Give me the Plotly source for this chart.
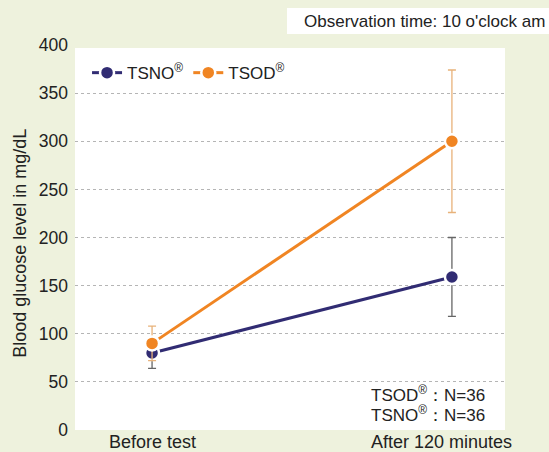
import plotly.graph_objects as go

categories = ["Before test", "After 120 minutes"]
tsno_mean = [80, 159]
tsno_err = [16, 41]
tsod_mean = [90, 300]
tsod_err = [18, 74]
y_ticks = [0, 50, 100, 150, 200, 250, 300, 350, 400]
n_labels = ["TSOD<sup>®</sup>：N=36", "TSNO<sup>®</sup>：N=36"]

GREEN = "#eef2dd"
NAVY = "#312c73"
ORANGE = "#f08523"

fig = go.Figure()
fig.add_trace(go.Scatter(
    x=categories, y=tsno_mean, mode="lines+markers", name="TSNO<sup>®</sup>",
    line=dict(color=NAVY, width=3),
    marker=dict(size=14, color=NAVY, line=dict(color="white", width=2.5)),
    error_y=dict(type="data", array=tsno_err, color="#666666", thickness=1.3, width=4),
))
fig.add_trace(go.Scatter(
    x=categories, y=tsod_mean, mode="lines+markers", name="TSOD<sup>®</sup>",
    line=dict(color=ORANGE, width=3),
    marker=dict(size=14, color=ORANGE, line=dict(color="white", width=2.5)),
    error_y=dict(type="data", array=tsod_err, color="#e8b27a", thickness=1.3, width=4),
))

# white plot panel
fig.add_shape(type="rect", xref="x domain", yref="y", x0=0, x1=1, y0=0, y1=397,
              fillcolor="white", line=dict(width=0), layer="below")
# observation-time box
fig.add_shape(type="rect", xref="paper", yref="paper", x0=0.493, x1=1.2, y0=1.0286, y1=1.096,
              fillcolor="white", line=dict(width=0), layer="below")

fig.add_annotation(xref="paper", yref="paper", x=1.0977, y=1.062, xanchor="right", yanchor="middle",
                   text="Observation time: 10 o'clock am", showarrow=False,
                   font=dict(size=17, color="#222222"), align="right")
for label, yv in zip(n_labels, [37.4, 16.6]):
    fig.add_annotation(xref="paper", yref="y", x=0.958, y=yv, xanchor="right", yanchor="middle",
                       text=label, showarrow=False,
                       font=dict(size=17, color="#222222"), align="right")
# y-axis title
fig.add_annotation(xref="paper", yref="paper", x=-0.128, y=0.486, xanchor="center", yanchor="middle",
                   text="Blood glucose level in mg/dL", textangle=-90, showarrow=False,
                   font=dict(size=18, color="#222222"))
# x category labels
for cat, shift in zip(categories, [0, -10]):
    fig.add_annotation(xref="x", yref="paper", x=cat, y=-0.031, xanchor="center", yanchor="middle",
                       xshift=shift, text=cat, showarrow=False,
                       font=dict(size=18, color="#222222"))

fig.update_layout(
    width=549, height=452,
    margin=dict(l=75, r=44, t=45, b=22),
    paper_bgcolor=GREEN, plot_bgcolor=GREEN,
    font=dict(family="Liberation Sans, Arial, sans-serif", color="#222222"),
    showlegend=True,
    legend=dict(orientation="h", x=0.028, y=0.927, xanchor="left", yanchor="middle",
                bgcolor="rgba(0,0,0,0)", font=dict(size=17), itemwidth=30,
                tracegroupgap=0),
    xaxis=dict(type="category", range=[-0.257, 1.177], showgrid=False, zeroline=False,
               showline=False, showticklabels=False, automargin=False),
    yaxis=dict(range=[0, 400], tickvals=y_ticks, showgrid=True, gridcolor="#b5b5b5",
               griddash="dot", gridwidth=1, zeroline=False, showline=False,
               tickfont=dict(size=17.5), ticklabelstandoff=6, automargin=False),
)

fig.write_html("out.html", config={"displayModeBar": False},
               post_script="document.body.style.margin='0';document.body.style.overflow='hidden';")
